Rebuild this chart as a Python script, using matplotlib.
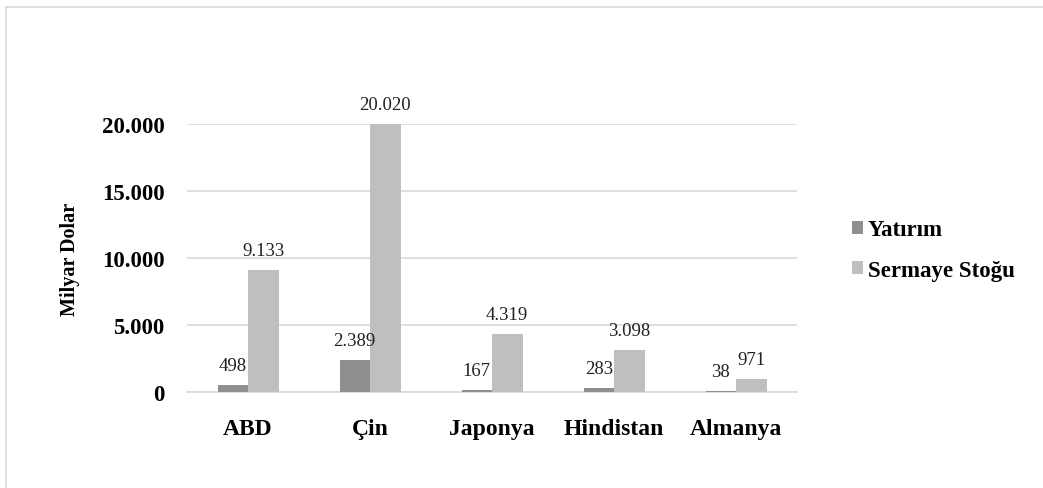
import matplotlib
matplotlib.use("Agg")
import matplotlib.pyplot as plt
from matplotlib.lines import Line2D
import numpy as np

categories = ["ABD", "Çin", "Japonya", "Hindistan", "Almanya"]
yatirim = [498, 2389, 167, 283, 38]
sermaye = [9133, 20020, 4319, 3098, 971]
series_names = ["Yatırım", "Sermaye Stoğu"]
yticks = [0, 5000, 10000, 15000, 20000]
ytick_labels = ["0", "5.000", "10.000", "15.000", "20.000"]

def fmt(v):
    return f"{v:,}".replace(",", ".")

plt.rcParams['font.family'] = ['Liberation Serif', 'DejaVu Serif']

W, H = 1043, 489
fig = plt.figure(figsize=(W/100, H/100), dpi=100)
ax = fig.add_axes([187/W, 1-393/H, (797-187)/W, (393-125)/H])

x = np.arange(len(categories))
bw = 0.25
dark = "#8f8f8f"
light = "#bfbfbf"
b1 = ax.bar(x - bw/2, yatirim, bw, color=dark, label=series_names[0], clip_on=False, zorder=3)
b2 = ax.bar(x + bw/2, sermaye, bw, color=light, label=series_names[1], clip_on=False, zorder=3)

for bars, vals in ((b1, yatirim), (b2, sermaye)):
    for r, v in zip(bars, vals):
        ax.annotate(fmt(v), (r.get_x() + r.get_width()/2, v), xytext=(0, 8),
                    textcoords="offset points", ha="center", va="bottom",
                    fontsize=13.5, color="#222222")

ax.set_xlim(-0.5, len(categories) - 0.5)
ax.set_ylim(0, 20000)
ax.set_yticks(yticks)
ax.set_yticklabels(ytick_labels, fontsize=16.5, fontweight="bold")
ax.set_xticks(x)
ax.set_xticklabels(categories, fontsize=17, fontweight="bold")
ax.tick_params(axis="both", length=0)
ax.tick_params(axis="x", pad=19)
ax.tick_params(axis="y", pad=16)
ax.grid(axis="y", color="#d9d9d9", linewidth=1.2, zorder=0)
ax.set_axisbelow(True)
for s in ["top", "right", "left"]:
    ax.spines[s].set_visible(False)
ax.spines["bottom"].set_color("#d9d9d9")
ax.spines["bottom"].set_linewidth(1.2)
ax.set_ylabel("Milyar Dolar", fontsize=14.5, fontweight="bold", labelpad=16)

leg = fig.legend(handles=[b1, b2], labels=series_names, loc="center left",
                 bbox_to_anchor=(831/W, 1-251/H), frameon=False,
                 prop={"size": 16.5, "weight": "bold"}, handlelength=0.5,
                 handleheight=0.5, handletextpad=0.2, labelspacing=0.85)

fig.add_artist(Line2D([5.5/W, 1.0], [1-7.5/H, 1-7.5/H], transform=fig.transFigure,
                      color="#d9d9d9", linewidth=1.2))
fig.add_artist(Line2D([5.5/W, 5.5/W], [0.0, 1-7.5/H], transform=fig.transFigure,
                      color="#d9d9d9", linewidth=1.2))

fig.savefig("out.png", dpi=100)
